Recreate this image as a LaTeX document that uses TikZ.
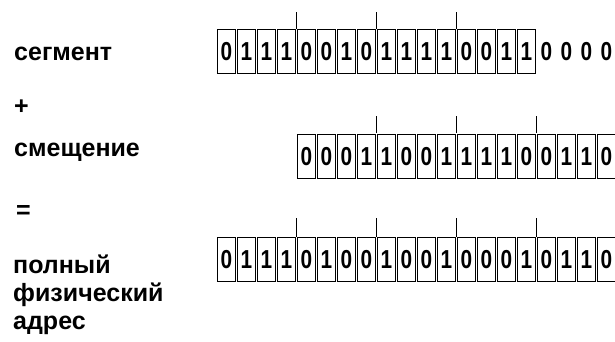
\documentclass[tikz,border=0pt]{standalone}
\usepackage{fontspec}
\usepackage{graphicx}
\setmainfont{Liberation Sans}
\newfontfamily\heavy{Liberation Sans Bold}
\newcommand\dg[1]{\scalebox{0.8}[1]{#1}}
\begin{document}
\begin{tikzpicture}[x=1pt,y=-1pt,
  cell/.style={draw, line width=0.9pt, minimum width=18pt, minimum height=44pt, inner sep=0pt, font=\heavy\fontsize{26}{28}\selectfont},
  bare/.style={inner sep=0pt, minimum width=18pt, minimum height=44pt, font=\heavy\fontsize{26}{28}\selectfont},
  lbl/.style={font=\heavy\fontsize{25}{28}\selectfont, inner sep=0pt, anchor=base west, align=left},
  tick/.style={line width=0.9pt}]
\useasboundingbox (0,0) rectangle (615,341);
\clip (0,0) rectangle (615,341);
% labels
\node[lbl] (seg) at (14,60) {сегмент};
\node[lbl] (plus) at (14,114) {+};
\node[lbl] (off) at (14,156) {смещение};
\node[lbl] (eq) at (16,218) {=};
\node[lbl] (full) at (13,329) {полный\\физический\\адрес};
% row 1: segment
\foreach \b [count=\i] in {0,1,1,1,0,0,1,0,1,1,1,1,0,0,1,1}
  \node[cell] (s\i) at (206.5+20*\i, 51.5) {\dg{\b}};
\foreach \b [count=\i from 17] in {0,0,0,0}
  \node[bare] (s\i) at (206.5+20*\i, 51.5) {\dg{\b}};
\foreach \x in {296.5,376.5,456.5}
  \draw[tick] (\x,12) -- (\x,29);
% row 2: offset
\foreach \b [count=\i] in {0,0,0,1,1,0,0,1,1,1,1,0,0,1,1,0}
  \node[cell] (o\i) at (286.5+20*\i, 156.5) {\dg{\b}};
\foreach \x in {376.5,456.5,536.5}
  \draw[tick] (\x,116) -- (\x,133);
% row 3: full address
\foreach \b [count=\i] in {0,1,1,1,0,1,0,0,1,0,0,1,0,0,0,1,0,1,1,0}
  \node[cell] (f\i) at (206.5+20*\i, 259.5) {\dg{\b}};
\foreach \x in {296.5,376.5,456.5,536.5}
  \draw[tick] (\x,218) -- (\x,237);
\end{tikzpicture}
\end{document}
